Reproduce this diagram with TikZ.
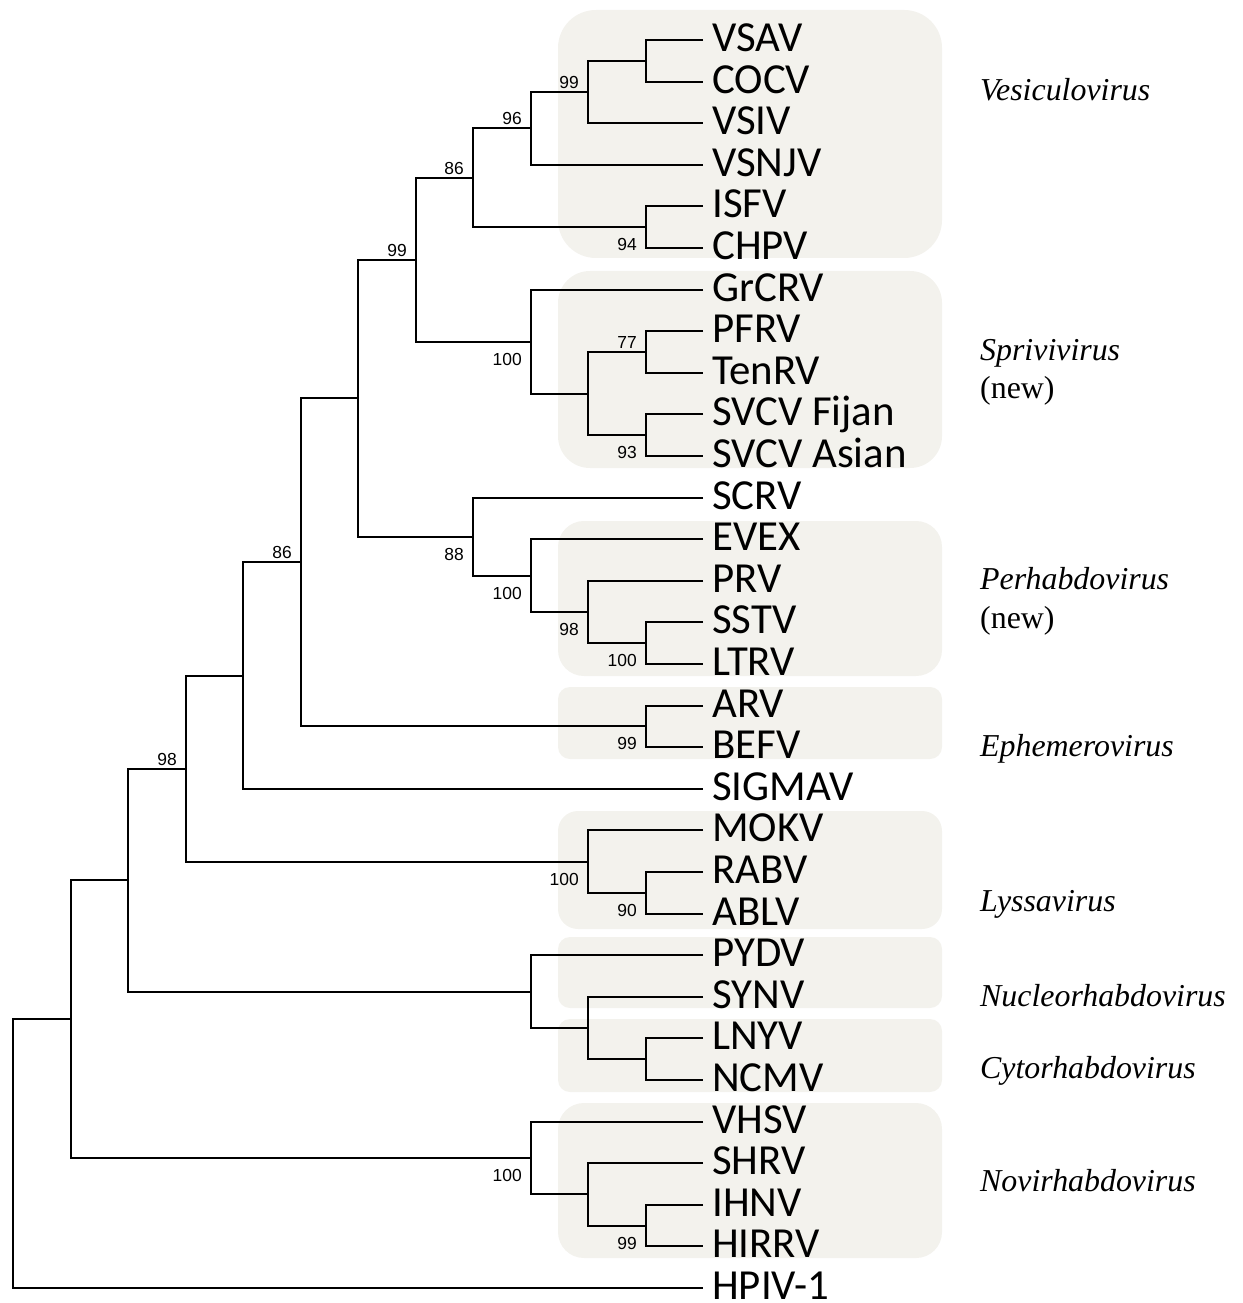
\documentclass[tikz,border=0pt]{standalone}
\usepackage{fontspec}
\setmainfont{Liberation Serif}
\newfontfamily\leaffont{Carlito}
\newfontfamily\bootfont{Liberation Sans}
\definecolor{grpfill}{RGB}{243,242,237}
\begin{document}
\begin{tikzpicture}[x=1bp,y=-1bp,
  br/.style={line width=2bp,line join=miter},
  leaf/.style={anchor=base west,inner sep=0pt,font=\leaffont\fontsize{43}{43}\selectfont},
  bsup/.style={anchor=east,inner sep=0pt,font=\bootfont\fontsize{17.5}{17.5}\selectfont},
  genus/.style={anchor=base west,inner sep=0pt,font=\fontsize{32}{32}\selectfont\itshape},
  genusnew/.style={anchor=base west,inner sep=0pt,font=\fontsize{32}{32}\selectfont}]
\useasboundingbox (0,0) rectangle (1242,1303);
% group boxes
\fill[grpfill,rounded corners=38] (558,10) rectangle (942,258);
\fill[grpfill,rounded corners=32] (558,271) rectangle (942,468);
\fill[grpfill,rounded corners=26] (558,521) rectangle (942,676);
\fill[grpfill,rounded corners=12] (558,687) rectangle (942,759);
\fill[grpfill,rounded corners=20] (558,811) rectangle (942,929);
\fill[grpfill,rounded corners=12] (558,937) rectangle (942,1008);
\fill[grpfill,rounded corners=12] (558,1019) rectangle (942,1092);
\fill[grpfill,rounded corners=26] (558,1103) rectangle (942,1258);
% leaves
\foreach \nm/\txt/\yy in {VSAV/VSAV/40,COCV/COCV/82,VSIV/VSIV/123,VSNJV/VSNJV/165,ISFV/ISFV/206,CHPV/CHPV/248,GrCRV/GrCRV/290,PFRV/PFRV/331,TenRV/TenRV/373,SVCVF/SVCV Fijan/414,SVCVA/SVCV Asian/456,SCRV/SCRV/498,EVEX/EVEX/539,PRV/PRV/581,SSTV/SSTV/622,LTRV/LTRV/664,ARV/ARV/706,BEFV/BEFV/747,SIGMAV/SIGMAV/789,MOKV/MOKV/830,RABV/RABV/872,ABLV/ABLV/914,PYDV/PYDV/955,SYNV/SYNV/997,LNYV/LNYV/1038,NCMV/NCMV/1080,VHSV/VHSV/1122,SHRV/SHRV/1163,IHNV/IHNV/1205,HIRRV/HIRRV/1246,HPIV/HPIV-1/1288}{
  \coordinate (\nm) at (703,\yy);
  \node[leaf] (t\nm) at (712,{\yy+11.5}) {\txt};
}
% internal nodes
\coordinate (n1) at (646,61);
\coordinate (n2) at (588,92);
\coordinate (n3) at (531,128);
\coordinate (n4) at (646,227);
\coordinate (n5) at (473,178);
\coordinate (s1) at (646,352);
\coordinate (s2) at (646,435);
\coordinate (s3) at (588,394);
\coordinate (s4) at (531,342);
\coordinate (vs) at (416,260);
\coordinate (p1) at (646,643);
\coordinate (p2) at (588,612);
\coordinate (p3) at (531,576);
\coordinate (p4) at (473,537);
\coordinate (a6) at (358,398);
\coordinate (e1) at (646,726);
\coordinate (a7) at (301,562);
\coordinate (a8) at (243,676);
\coordinate (l1) at (646,893);
\coordinate (l2) at (588,862);
\coordinate (a9) at (186,769);
\coordinate (c1) at (646,1059);
\coordinate (c2) at (588,1028);
\coordinate (c3) at (531,992);
\coordinate (a10) at (128,880);
\coordinate (v1) at (646,1226);
\coordinate (v2) at (588,1194);
\coordinate (v3) at (531,1158);
\coordinate (a11) at (71,1019);
\coordinate (root) at (13,1154);
% edges
\foreach \p/\a/\b in {n1/VSAV/COCV,n2/n1/VSIV,n3/n2/VSNJV,n4/ISFV/CHPV,n5/n3/n4,
  s1/PFRV/TenRV,s2/SVCVF/SVCVA,s3/s1/s2,s4/GrCRV/s3,vs/n5/s4,
  p1/SSTV/LTRV,p2/PRV/p1,p3/EVEX/p2,p4/SCRV/p3,a6/vs/p4,
  e1/ARV/BEFV,a7/a6/e1,a8/a7/SIGMAV,l1/RABV/ABLV,l2/MOKV/l1,a9/a8/l2,
  c1/LNYV/NCMV,c2/SYNV/c1,c3/PYDV/c2,a10/a9/c3,
  v1/IHNV/HIRRV,v2/SHRV/v1,v3/VHSV/v2,a11/a10/v3,root/a11/HPIV}{
  \draw[br] (\a) -| (\p) |- (\b);
}
% bootstrap values (upper: above branch; lower: below branch)
\node[bsup] (b99a) at ([shift={(-9,-9.5)}]n2) {99};
\node[bsup] (b96) at ([shift={(-9,-9.5)}]n3) {96};
\node[bsup] (b86a) at ([shift={(-9,-9.5)}]n5) {86};
\node[bsup] (b94) at ([shift={(-9,17)}]n4) {94};
\node[bsup] (b99b) at ([shift={(-9,-9.5)}]vs) {99};
\node[bsup] (b100a) at ([shift={(-9,17)}]s4) {100};
\node[bsup] (b77) at ([shift={(-9,-9.5)}]s1) {77};
\node[bsup] (b93) at ([shift={(-9,17)}]s2) {93};
\node[bsup] (b88) at ([shift={(-9,17)}]p4) {88};
\node[bsup] (b100b) at ([shift={(-9,17)}]p3) {100};
\node[bsup] (b98a) at ([shift={(-9,17)}]p2) {98};
\node[bsup] (b100c) at ([shift={(-9,17)}]p1) {100};
\node[bsup] (b99c) at ([shift={(-9,17)}]e1) {99};
\node[bsup] (b86b) at ([shift={(-9,-9.5)}]a7) {86};
\node[bsup] (b98b) at ([shift={(-9,-9.5)}]a9) {98};
\node[bsup] (b100d) at ([shift={(-9,17)}]l2) {100};
\node[bsup] (b90) at ([shift={(-9,17)}]l1) {90};
\node[bsup] (b100e) at ([shift={(-9,17)}]v3) {100};
\node[bsup] (b99d) at ([shift={(-9,17)}]v1) {99};
% genus labels
\node[genus] (gVes) at (980,101) {Vesiculovirus};
\node[genus] (gSpr) at (980,360) {Sprivivirus};
\node[genusnew] (gSprN) at (980,398) {(new)};
\node[genus] (gPer) at (980,589) {Perhabdovirus};
\node[genusnew] (gPerN) at (980,628) {(new)};
\node[genus] (gEph) at (980,756) {Ephemerovirus};
\node[genus] (gLys) at (980,911) {Lyssavirus};
\node[genus] (gNuc) at (980,1006) {Nucleorhabdovirus};
\node[genus] (gCyt) at (980,1078) {Cytorhabdovirus};
\node[genus] (gNov) at (980,1191) {Novirhabdovirus};
\end{tikzpicture}
\end{document}
